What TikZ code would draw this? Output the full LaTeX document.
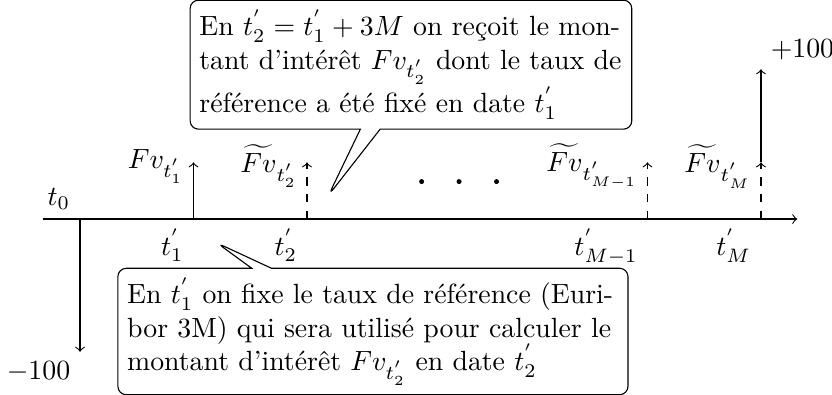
\documentclass[tikz,border=0pt]{standalone}
\usepackage{amsmath}
\usetikzlibrary{shapes.callouts}

\begin{document}
\begin{tikzpicture}[
    x=1.435cm, y=1.435cm,
    flow/.style={->},
    fwd/.style={->, dashed},
    cash/.style={left, yshift=-1.5pt},
    note/.style={rectangle callout, draw, rounded corners=3pt, fill=white}
]
\useasboundingbox (-0.705,-1.542) rectangle (6.626,1.930);

\coordinate (start) at (-0.33,0);
\coordinate (end) at (6.32,0);
\coordinate (t0) at (0,0);
\coordinate (t1) at (1,0);
\coordinate (t2) at (2,0);
\coordinate (tm1) at (5,0);
\coordinate (tm) at (6,0);
\coordinate (f1) at (1,0.5);
\coordinate (f2) at (2,0.5);
\coordinate (fm1) at (5,0.5);
\coordinate (fm) at (6,0.5);
\coordinate (nominal) at (6,1.32);
\coordinate (paid) at (0,-1.17);

\draw[->] (start) -- (end);

\draw[flow] (t0) -- (paid);
\draw[flow] (t1) -- (f1);
\draw[fwd] (t2) -- (f2);
\draw[fwd] (tm1) -- (fm1);
\draw[fwd] (tm) -- (fm);
\draw[flow] (fm) -- (nominal);

\node[above left] (lt0) at (t0) {$t_0$};
\node[below left] (lt1) at (t1) {$t^{'}_1$};
\node[below left] (lt2) at (t2) {$t^{'}_2$};
\node[below left] (ltm1) at (tm1) {$t^{'}_{M-1}$};
\node[below left] (ltm) at (tm) {$t^{'}_M$};

\node[cash] (lf1) at (f1) {$Fv_{t^{'}_1}$};
\node[cash] (lf2) at (f2) {$\widetilde{Fv}_{t^{'}_2}$};
\node[cash] (lfm1) at (fm1) {$\widetilde{Fv}_{t^{'}_{M-1}}$};
\node[cash] (lfm) at (fm) {$\widetilde{Fv}_{t^{'}_M}$};
\node[above right] (lnominal) at (nominal) {$+100$};
\node[below left] (lpaid) at (paid) {$-100$};

\foreach \i in {0,1,2}
  \fill (3.01+0.33*\i,0.33) circle (0.9pt);

\coordinate (tipA) at (2.19,0.21);
\coordinate (tipB) at (1.207,-0.211);

\node[note, text width=5.35cm, callout absolute pointer={(tipA)}] (noteA) at (2.916,1.36)
  {En $t^{'}_2=t^{'}_1+3M$ on reçoit le mon-\linebreak tant~d'intérêt~$Fv_{t^{'}_2}$~dont~le~taux~de\linebreak référence a été fixé en date $t^{'}_1$};
\node[note, text width=6.215cm, callout absolute pointer={(tipB)}] (noteB) at (2.581,-0.991)
  {En $t^{'}_1$ on fixe le taux de référence (Euri-\linebreak bor 3M) qui sera utilisé pour calculer le\linebreak montant d'intérêt $Fv_{t^{'}_2}$ en date $t^{'}_2$};
\end{tikzpicture}
\end{document}
